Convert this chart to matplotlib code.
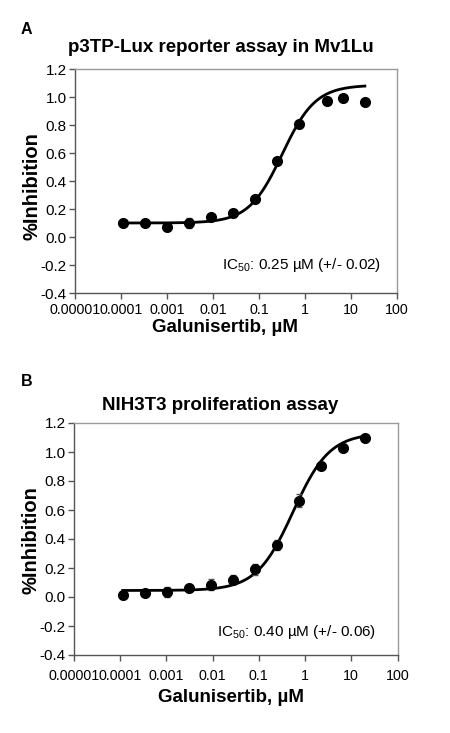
import matplotlib
matplotlib.use('Agg')
import matplotlib.pyplot as plt
import numpy as np

plt.rcParams['font.family'] = ['Liberation Sans', 'DejaVu Sans']
plt.rcParams['mathtext.fontset'] = 'custom'
plt.rcParams['mathtext.rm'] = 'Liberation Sans'
plt.rcParams['mathtext.it'] = 'Liberation Sans'
plt.rcParams['mathtext.bf'] = 'Liberation Sans:bold'

# ── data ───────────────────────────────────────────────────────────────────
conc_a = [0.000113, 0.000339, 0.00102, 0.00305, 0.00914, 0.0274,
          0.0823, 0.247, 0.741, 3.0, 6.67, 20.0]
inhib_a = [0.10, 0.10, 0.07, 0.10, 0.14, 0.175, 0.275, 0.54, 0.81, 0.97, 0.99, 0.965]
err_a = [0.02, 0.015, 0.02, 0.035, 0.015, 0.015, 0.015, 0.015, 0.015, 0.02, 0.015, 0.01]

conc_b = [0.000113, 0.000339, 0.00102, 0.00305, 0.00914, 0.0274,
          0.0823, 0.247, 0.741, 2.22, 6.67, 20.0]
inhib_b = [0.015, 0.025, 0.035, 0.062, 0.085, 0.12, 0.19, 0.36, 0.665, 0.905, 1.03, 1.095]
err_b = [0.015, 0.02, 0.035, 0.015, 0.04, 0.03, 0.035, 0.035, 0.045, 0.025, 0.025, 0.015]

# 4-parameter logistic fit parameters (bottom, top, EC50, hill)
fit_a = (0.10, 1.085, 0.32, 1.2)
fit_b = (0.045, 1.13, 0.55, 1.1)

xticks = [1e-5, 1e-4, 1e-3, 1e-2, 1e-1, 1, 10, 100]
xticklabels = ['0.00001', '0.0001', '0.001', '0.01', '0.1', '1', '10', '100']
yticks = [-0.4, -0.2, 0.0, 0.2, 0.4, 0.6, 0.8, 1.0, 1.2]

W, H = 450, 733

# layout in pixel coordinates of the reference
panels = [
    dict(label='A', title='p3TP-Lux reporter assay in Mv1Lu',
         conc=conc_a, inhib=inhib_a, err=err_a, fit=fit_a,
         ic50='IC$_{50}$: 0.25 µM (+/- 0.02)',
         box=(75, 69, 397, 293), label_xy=(21, 29), title_xy=(221, 48),
         ic50_xy=(381.5, 265), xlabel_xy=(225, 328), ylabel_xy=(32, 186),
         xpad=3),
    dict(label='B', title='NIH3T3 proliferation assay',
         conc=conc_b, inhib=inhib_b, err=err_b, fit=fit_b,
         ic50='IC$_{50}$: 0.40 µM (+/- 0.06)',
         box=(74, 423, 397.5, 655), label_xy=(21, 381), title_xy=(220, 405),
         ic50_xy=(376, 632), xlabel_xy=(231, 698), ylabel_xy=(31, 540),
         xpad=6),
]


def logistic(x, bottom, top, ec50, hill):
    return bottom + (top - bottom) / (1 + (ec50 / x) ** hill)


def fx(px):
    return px / W


def fy(py):
    return 1 - py / H


fig = plt.figure(figsize=(W / 100, H / 100), dpi=100, facecolor='white')

for p in panels:
    x0, y0, x1, y1 = p['box']
    ax = fig.add_axes([fx(x0), fy(y1), (x1 - x0) / W, (y1 - y0) / H])
    ax.set_xscale('log')
    ax.set_xlim(1e-5, 100)
    ax.set_ylim(-0.4, 1.2)

    # fitted curve
    xs = np.logspace(np.log10(p['conc'][0]), np.log10(p['conc'][-1]), 200)
    ax.plot(xs, logistic(xs, *p['fit']), color='black', lw=2.0, zorder=3)

    # data points
    ax.errorbar(p['conc'], p['inhib'], yerr=p['err'], fmt='o', color='black',
                ms=7, ecolor='#555555', elinewidth=1.0, capsize=2.5,
                capthick=1.0, zorder=4)

    ax.set_xticks(xticks)
    ax.set_xticklabels(xticklabels)
    ax.xaxis.set_minor_locator(matplotlib.ticker.NullLocator())
    ax.set_yticks(yticks)
    ax.set_yticklabels([f'{v:.1f}' for v in yticks])
    ax.tick_params(length=4, width=1, color='#555555')
    ax.tick_params(axis='y', pad=2, labelsize=11)
    ax.tick_params(axis='x', pad=p['xpad'], labelsize=10.3)

    for side in ('left', 'bottom'):
        ax.spines[side].set_color('#555555')
        ax.spines[side].set_linewidth(1.0)
    for side in ('top', 'right'):
        ax.spines[side].set_color('#9a9a9a')
        ax.spines[side].set_linewidth(1.0)

    fig.text(fx(p['xlabel_xy'][0]), fy(p['xlabel_xy'][1]), 'Galunisertib, µM',
             ha='center', va='center', fontsize=13.5, fontweight='bold')
    fig.text(fx(p['ylabel_xy'][0]), fy(p['ylabel_xy'][1]), '%Inhibition',
             ha='center', va='center', fontsize=14.5, fontweight='bold',
             rotation=90)
    fig.text(fx(p['ic50_xy'][0]), fy(p['ic50_xy'][1]), p['ic50'],
             ha='right', va='center', fontsize=11)
    fig.text(fx(p['title_xy'][0]), fy(p['title_xy'][1]), p['title'],
             ha='center', va='center', fontsize=13.5, fontweight='bold')
    fig.text(fx(p['label_xy'][0]), fy(p['label_xy'][1]), p['label'],
             ha='left', va='center', fontsize=11.5, fontweight='bold')

fig.savefig('out.png', dpi=100, facecolor='white')
